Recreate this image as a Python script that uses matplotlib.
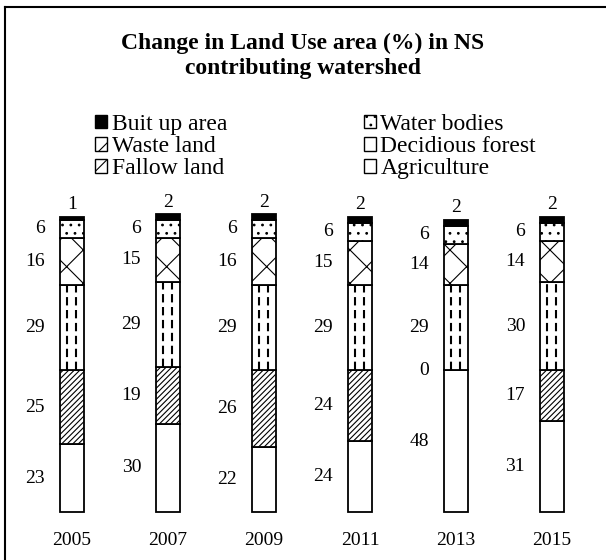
import matplotlib
matplotlib.use("Agg")
import matplotlib.pyplot as plt
from matplotlib.lines import Line2D
from matplotlib.patches import Patch
import numpy as np

plt.rcParams['font.family'] = ['Liberation Serif', 'DejaVu Serif']
plt.rcParams['hatch.linewidth'] = 0.8

years = ['2005', '2007', '2009', '2011', '2013', '2015']
agriculture = [23, 30, 22, 24, 48, 31]
fallow_land = [25, 19, 26, 24, 0, 17]
decidious_forest = [29, 29, 29, 29, 29, 30]
waste_land = [16, 15, 16, 15, 14, 14]
water_bodies = [6, 6, 6, 6, 6, 6]
built_up = [1, 2, 2, 2, 2, 2]

series = [
    ('Agriculture', agriculture, 'white', ''),
    ('Fallow land', fallow_land, 'white', '//////'),
    ('Decidious forest', decidious_forest, 'white', ''),
    ('Waste land', waste_land, 'white', 'x'),
    ('Water bodies', water_bodies, 'white', '..'),
    ('Buit up area', built_up, 'black', ''),
]

fig = plt.figure(figsize=(6.06, 5.6), dpi=100)
ax = fig.add_axes([24 / 606, (560 - 512) / 560, 576 / 606, 295 / 560])

x = np.arange(len(years))
w = 0.26
bottom = np.zeros(len(years))
for name, vals, color, hatch in series:
    vals = np.array(vals, dtype=float)
    ax.bar(x, vals, w, bottom=bottom, color=color, edgecolor='black',
           linewidth=1.3, hatch=hatch, clip_on=False, zorder=2)
    if name == 'Decidious forest':
        for frac in (0.3, 0.65):
            ax.vlines(x - w / 2 + w * frac, bottom, bottom + vals, colors='black',
                      linewidth=1.5, linestyles=(0, (4, 2.2)), zorder=3, clip_on=False)
    for i in range(len(years)):
        if name == 'Buit up area':
            ax.text(x[i], bottom[i] + vals[i] + 1.2, f'{int(vals[i])}', ha='center',
                    va='bottom', fontsize=14)
        else:
            ax.text(x[i] - w / 2 - 0.15, bottom[i] + vals[i] / 2, f'{int(vals[i])}',
                    ha='right', va='center', fontsize=14)
    bottom += vals

ax.set_xlim(-0.5, len(years) - 0.5)
ax.set_ylim(0, 100)
ax.axis('off')
for i, yr in enumerate(years):
    ax.text(x[i], -9.6, yr, ha='center', va='center', fontsize=14)

fig.text(0.5, 1 - 56 / 560, 'Change in Land Use area (%) in NS\ncontributing watershed',
         ha='center', va='center', fontsize=17, fontweight='bold', linespacing=1.25)

handles = [
    Patch(facecolor='black', edgecolor='black', label='Buit up area'),
    Patch(facecolor='white', edgecolor='black', hatch='//', label='Waste land'),
    Patch(facecolor='white', edgecolor='black', hatch='//', label='Fallow land'),
    Patch(facecolor='white', edgecolor='black', hatch='..', label='Water bodies'),
    Patch(facecolor='white', edgecolor='black', label='Decidious forest'),
    Patch(facecolor='white', edgecolor='black', label='Agriculture'),
]
fig.legend(handles=handles, ncol=2, loc='upper left',
           bbox_to_anchor=(95 / 606, 1 - 114 / 560), frameon=False, fontsize=17,
           handlelength=0.5, handleheight=0.5, handletextpad=0.2,
           columnspacing=5.8, labelspacing=0.05, borderpad=0, borderaxespad=0)

fig.add_artist(Line2D([5 / 606, 5 / 606], [0, 1 - 7 / 560], color='black', linewidth=1.5,
                      transform=fig.transFigure))
fig.add_artist(Line2D([5 / 606, 1], [1 - 7 / 560, 1 - 7 / 560], color='black', linewidth=1.5,
                      transform=fig.transFigure))

fig.savefig('out.png', dpi=100)
